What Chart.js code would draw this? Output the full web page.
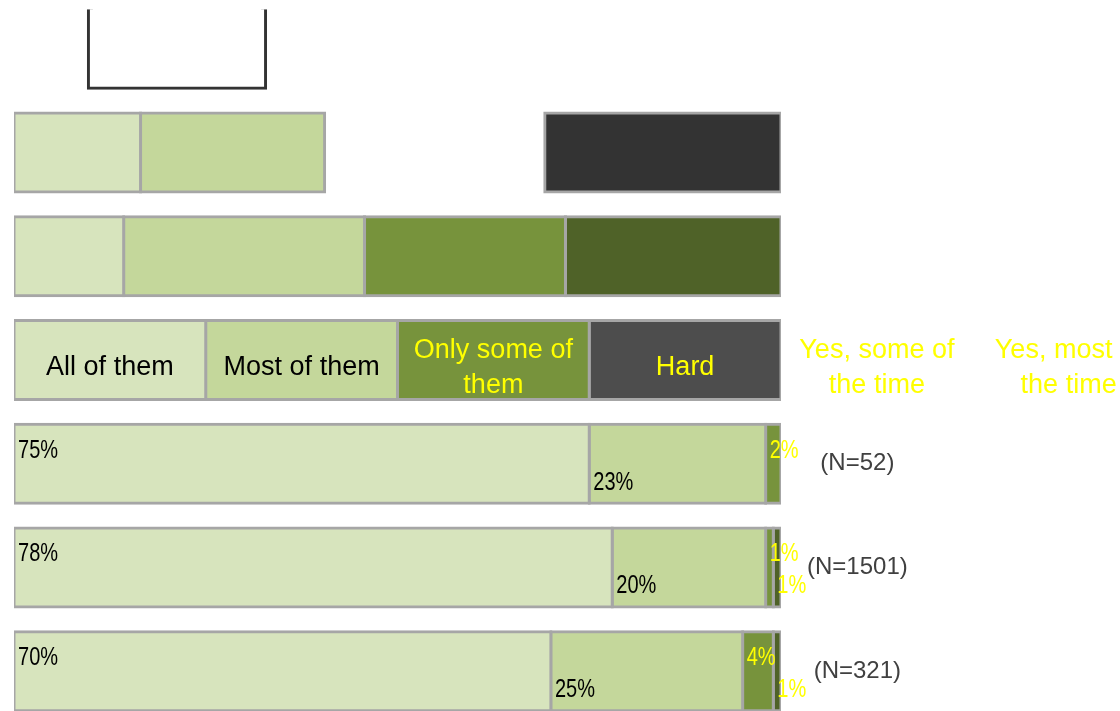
<!DOCTYPE html>
<html>
<head>
<meta charset="utf-8">
<script src="https://cdn.jsdelivr.net/npm/chart.js@4/dist/chart.umd.min.js"></script>
<style>
  html, body { margin: 0; padding: 0; background: #fff; overflow: hidden; }
  #wrap { position: absolute; left: 0; top: -3px; width: 1120px; height: 728px; }
</style>
</head>
<body>
<div id="wrap"><canvas id="chart"></canvas></div>
<script>
// rows, top to bottom
const rows = ['box', 'scale A', 'scale B', 'key', 'group 1', 'group 2', 'group 3'];
const nLabels = ['', '', '', '', '(N=52)', '(N=1501)', '(N=321)'];
const keyRow = 3;

// segment values per row (percent of the bar)
const allOfThem  = [9.7, 16.5, 14.3, 25, 75, 78, 70];
const mostOfThem = [23.1, 24.0, 31.4, 25, 23, 20, 25];
const onlySome   = [0, 28.7, 26.2, 25, 2, 1, 4];
const hard       = [0, 30.8, 28.1, 25, 0, 1, 1];
const yesSome    = [0, 0, 0, 25, 0, 0, 0];
const yesMost    = [0, 0, 0, 25, 0, 0, 0];

// text written in the key row
const keyLabels = [
    ['All of them'],
    ['Most of them'],
    ['Only some of', 'them'],
    ['Hard'],
    ['Yes, some of', 'the time'],
    ['Yes, most of', 'the time']
];

const FONT = "'Liberation Sans', Arial, sans-serif";
const GRID = '#a6a6a6';
const NONE = 'rgba(0,0,0,0)';
const textColors = ['#000000', '#000000', '#ffff00', '#ffff00', '#ffff00', '#ffff00'];

const segLabels = {
    id: 'segLabels',
    afterDatasetsDraw(chart) {
        const ctx = chart.ctx;
        chart.data.datasets.forEach((ds, di) => {
            const meta = chart.getDatasetMeta(di);
            meta.data.forEach((bar, row) => {
                const v = ds.data[row];
                ctx.save();
                ctx.fillStyle = textColors[di];
                if (row === keyRow) {
                    const lines = keyLabels[di];
                    const cx = (bar.base + bar.x) / 2;
                    ctx.font = '27px ' + FONT;
                    ctx.textAlign = 'center';
                    ctx.textBaseline = 'alphabetic';
                    lines.forEach((t, i) => {
                        ctx.fillText(t, cx, bar.y + 15 - (lines.length - 1) * 17.5 + i * 35);
                    });
                } else if (nLabels[row] && v > 0) {
                    // even series sit high in the bar, odd ones low
                    const y = di % 2 === 0 ? bar.y - 6 : bar.y + 26;
                    ctx.font = '26px ' + FONT;
                    ctx.textAlign = 'left';
                    ctx.textBaseline = 'alphabetic';
                    ctx.translate(bar.base + 4, y);
                    ctx.scale(0.77, 1);
                    ctx.fillText(v + '%', 0, 0);
                }
                ctx.restore();
            });
        });
    }
};

const common = {
    xAxisID: 'x',
    yAxisID: 'y',
    borderSkipped: false,
    borderWidth: 3,
    inflateAmount: 1.5,
    barPercentage: 0.762,
    categoryPercentage: 1
};

new Chart(document.getElementById('chart').getContext('2d'), {
    type: 'bar',
    data: {
        labels: rows,
        datasets: [
            {
                ...common,
                label: 'All of them',
                data: allOfThem,
                backgroundColor: [NONE, '#d7e4bd', '#d7e4bd', '#d7e4bd', '#d7e4bd', '#d7e4bd', '#d7e4bd'],
                borderColor: [NONE, GRID, GRID, GRID, GRID, GRID, GRID]
            },
            {
                ...common,
                label: 'Most of them',
                data: mostOfThem,
                backgroundColor: ['#ffffff', '#c4d79b', '#c4d79b', '#c4d79b', '#c4d79b', '#c4d79b', '#c4d79b'],
                borderColor: ['#333333', GRID, GRID, GRID, GRID, GRID, GRID],
                borderWidth: (c) => c.dataIndex === 0 ? { top: 0, left: 3, right: 3, bottom: 3 } : 3
            },
            {
                ...common,
                label: 'Only some of them',
                data: onlySome,
                backgroundColor: [NONE, NONE, '#77933c', '#77933c', '#77933c', '#77933c', '#77933c'],
                borderColor: [NONE, NONE, GRID, GRID, GRID, GRID, GRID]
            },
            {
                ...common,
                label: 'Hard',
                data: hard,
                backgroundColor: [NONE, '#333333', '#4f6228', '#4d4d4d', '#4f6228', '#4f6228', '#4f6228'],
                borderColor: [NONE, GRID, GRID, GRID, GRID, GRID, GRID]
            },
            {
                ...common,
                label: 'Yes, some of the time',
                data: yesSome,
                backgroundColor: NONE,
                borderColor: NONE
            },
            {
                ...common,
                label: 'Yes, most of the time',
                data: yesMost,
                backgroundColor: NONE,
                borderColor: NONE
            }
        ]
    },
    options: {
        indexAxis: 'y',
        responsive: true,
        maintainAspectRatio: false,
        animation: false,
        layout: { padding: { left: 14, right: 187, top: 0, bottom: 2 } },
        plugins: {
            legend: { display: false },
            tooltip: { enabled: false }
        },
        scales: {
            x: { type: 'linear', min: 0, max: 100, stacked: true, display: false },
            y: { stacked: true, display: false },
            y2: {
                type: 'category',
                labels: nLabels,
                position: 'right',
                offset: true,
                grid: { display: false, drawTicks: false },
                border: { display: false },
                ticks: {
                    color: '#404040',
                    font: { size: 24, family: FONT },
                    crossAlign: 'center',
                    padding: 26,
                    autoSkip: false
                },
                afterFit(scale) {
                    scale.width = 152;
                    scale.paddingTop = 0;
                    scale.paddingBottom = 0;
                }
            }
        }
    },
    plugins: [segLabels]
});
</script>
</body>
</html>
